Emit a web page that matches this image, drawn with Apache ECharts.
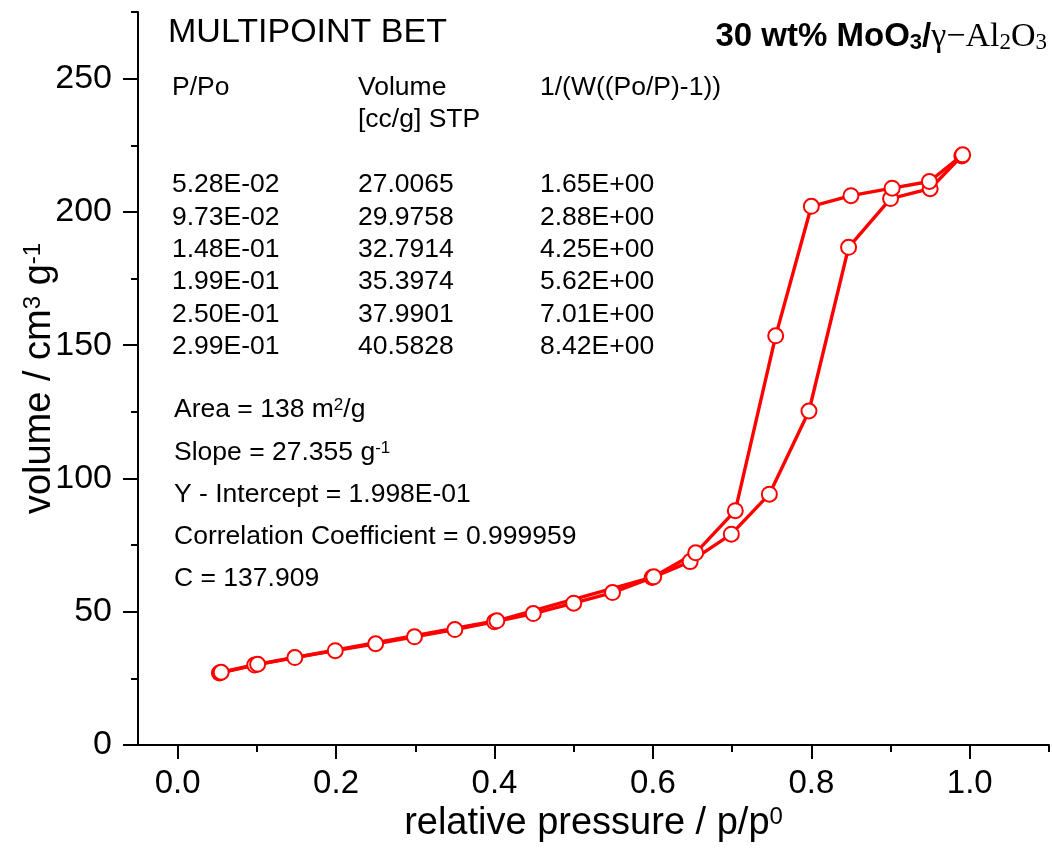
<!DOCTYPE html>
<html>
<head>
<meta charset="utf-8">
<script src="https://cdn.jsdelivr.net/npm/echarts@6/dist/echarts.min.js"></script>
<style>
html,body{margin:0;padding:0;background:#fff;}
#chart{width:1052px;height:849px;}
</style>
</head>
<body>
<div id="chart"></div>
<script>
// ---- data ----
const adsorption = [
  [0.0528, 27.0065], [0.0973, 29.9758], [0.148, 32.7914], [0.199, 35.3974],
  [0.250, 37.9901], [0.299, 40.5828], [0.350, 43.3], [0.400, 46.2],
  [0.449, 49.3], [0.500, 53.2], [0.549, 57.2], [0.599, 62.8],
  [0.647, 68.8], [0.699, 79.1], [0.747, 94.1], [0.797, 125.3],
  [0.847, 186.7], [0.900, 205.0], [0.950, 208.7], [0.990, 221.0]
];
const desorption = [
  [0.991, 221.4], [0.949, 211.4], [0.902, 208.9], [0.850, 206.1],
  [0.800, 202.1], [0.755, 153.5], [0.704, 87.9], [0.654, 72.1],
  [0.601, 63.1], [0.403, 46.6], [0.101, 30.3], [0.055, 27.3]
];
const xMajorTicks = [0.0, 0.2, 0.4, 0.6, 0.8, 1.0];
const xMinorTicks = [0.1, 0.3, 0.5, 0.7, 0.9, 1.1];
const yMajorTicks = [0, 50, 100, 150, 200, 250];
const yMinorTicks = [25, 75, 125, 175, 225, 275];
const tableHeader = ['P/Po', 'Volume', '[cc/g] STP', '1/(W((Po/P)-1))'];
const tablePP = ['5.28E-02', '9.73E-02', '1.48E-01', '1.99E-01', '2.50E-01', '2.99E-01'];
const tableVol = ['27.0065', '29.9758', '32.7914', '35.3974', '37.9901', '40.5828'];
const tableInv = ['1.65E+00', '2.88E+00', '4.25E+00', '5.62E+00', '7.01E+00', '8.42E+00'];

const FONT = 'Liberation Sans, Arial, sans-serif';
const SERIF = 'Liberation Serif, Times New Roman, serif';
const RED = '#ff0000';
const TS = 26.5;

const chart = echarts.init(document.getElementById('chart'));

const graphics = [];
function addText(x, y, text, size, extra) {
  graphics.push(Object.assign({
    type: 'text', x: x, y: y,
    style: Object.assign({text: text, fontSize: size, fontFamily: FONT, fill: '#000',
      verticalAlign: 'middle', align: 'left'}, extra || {})
  }));
}
addText(168, 33, 'MULTIPOINT BET', 34);
addText(172, 88, tableHeader[0], TS);
addText(358, 88, tableHeader[1], TS);
addText(358, 120, tableHeader[2], TS);
addText(540, 88, tableHeader[3], TS);
for (let i = 0; i < tablePP.length; i++) {
  const y = 185 + i * 32.3;
  addText(172, y, tablePP[i], TS);
  addText(358, y, tableVol[i], TS);
  addText(540, y, tableInv[i], TS);
}
const statRich = {
  n: {fontSize: TS, fontFamily: FONT, fill: '#000'},
  s: {fontSize: 17, fontFamily: FONT, fill: '#000', verticalAlign: 'top'}
};
addText(174, 410, '{n|Area = 138 m}{s|2}{n|/g}', TS, {rich: statRich});
addText(174, 453, '{n|Slope = 27.355 g}{s|-1}', TS, {rich: statRich});
addText(174, 495, 'Y - Intercept = 1.998E-01', TS);
addText(174, 537, 'Correlation Coefficient = 0.999959', TS);
addText(174, 579, 'C = 137.909', TS);
// title (right-aligned)
graphics.push({
  type: 'text', x: 1047, y: 37,
  style: {
    text: '{b|30 wt% MoO}{bs|3}{b|/}{t|γ−Al}{ts|2}{t|O}{ts|3}',
    align: 'right', verticalAlign: 'middle',
    rich: {
      b: {fontSize: 33, fontWeight: 'bold', fontFamily: FONT, fill: '#000'},
      bs: {fontSize: 22, fontWeight: 'bold', fontFamily: FONT, fill: '#000', verticalAlign: 'bottom'},
      t: {fontSize: 34, fontFamily: SERIF, fill: '#000'},
      ts: {fontSize: 23, fontFamily: SERIF, fill: '#000', verticalAlign: 'bottom'}
    }
  }
});

const axisLineStyle = {color: '#000', width: 2};
chart.setOption({
  animation: false,
  backgroundColor: '#fff',
  grid: {left: 138, right: 3, top: 12, bottom: 104, containLabel: false},
  xAxis: [{
    type: 'value', min: -0.05, max: 1.1, position: 'bottom',
    axisLine: {show: true, onZero: false, lineStyle: axisLineStyle},
    axisTick: {show: true, inside: false, length: 14, lineStyle: {color: '#000', width: 2}, customValues: xMajorTicks},
    axisLabel: {show: true, customValues: xMajorTicks, fontSize: 33, fontFamily: FONT, color: '#000', margin: 22,
      formatter: v => v.toFixed(1)},
    splitLine: {show: false},
    name: '{n|relative pressure / p/p}{s|0}',
    nameLocation: 'middle', nameGap: 60, nameMoveOverlap: false,
    nameTextStyle: {rich: {
      n: {fontSize: 38, fontFamily: FONT, color: '#000'},
      s: {fontSize: 24, fontFamily: FONT, color: '#000', verticalAlign: 'top'}
    }}
  }, {
    type: 'value', min: -0.05, max: 1.1, position: 'bottom', offset: 0,
    axisLine: {show: false, onZero: false},
    axisTick: {show: true, inside: false, length: 7, lineStyle: {color: '#000', width: 2}, customValues: xMinorTicks},
    axisLabel: {show: false},
    splitLine: {show: false}
  }],
  yAxis: [{
    type: 'value', min: 0, max: 275, position: 'left',
    axisLine: {show: true, onZero: false, lineStyle: axisLineStyle},
    axisTick: {show: true, inside: false, length: 15, lineStyle: {color: '#000', width: 2}, customValues: yMajorTicks},
    axisLabel: {show: true, customValues: yMajorTicks, fontSize: 34, fontFamily: FONT, color: '#000', margin: 26},
    splitLine: {show: false},
    name: '{n|volume / cm}{s|3}{n| g}{s|-1}',
    nameLocation: 'middle', nameGap: 79, nameRotate: 90, nameMoveOverlap: false,
    nameTextStyle: {rich: {
      n: {fontSize: 38, fontFamily: FONT, color: '#000'},
      s: {fontSize: 24, fontFamily: FONT, color: '#000', verticalAlign: 'top'}
    }}
  }, {
    type: 'value', min: 0, max: 275, position: 'left', offset: 0,
    axisLine: {show: false, onZero: false},
    axisTick: {show: true, inside: false, length: 7, lineStyle: {color: '#000', width: 2}, customValues: yMinorTicks},
    axisLabel: {show: false},
    splitLine: {show: false}
  }],
  series: [{
    type: 'line', name: 'adsorption', data: adsorption,
    xAxisIndex: 0, yAxisIndex: 0,
    symbol: 'emptyCircle', symbolSize: 15, showAllSymbol: true,
    lineStyle: {color: RED, width: 3.4},
    itemStyle: {color: RED, borderColor: RED, borderWidth: 3.6}
  }, {
    type: 'line', name: 'desorption', data: desorption,
    xAxisIndex: 0, yAxisIndex: 0,
    symbol: 'emptyCircle', symbolSize: 15, showAllSymbol: true,
    lineStyle: {color: RED, width: 3.4},
    itemStyle: {color: RED, borderColor: RED, borderWidth: 3.6}
  }],
  graphic: graphics
});
</script>
</body>
</html>
